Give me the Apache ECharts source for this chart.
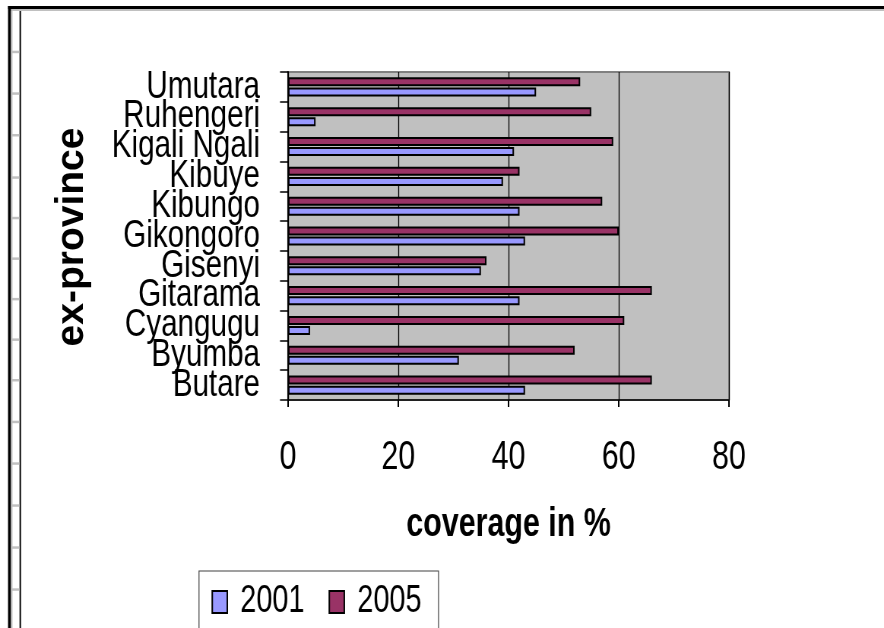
<!DOCTYPE html>
<html>
<head>
<meta charset="utf-8">
<title>Coverage by ex-province</title>
<script src="https://cdn.jsdelivr.net/npm/echarts@6/dist/echarts.min.js"></script>
<style>
  html, body { margin: 0; padding: 0; background: #fff; overflow: hidden; }
  #wrap { width: 884px; height: 628px; overflow: hidden; }
  /* The chart is laid out on a wider canvas and squeezed horizontally,
     which gives the tall, narrow lettering of the original worksheet chart. */
  #chart { width: 1163px; height: 628px; transform: scaleX(0.7601); transform-origin: 0 0; }
</style>
</head>
<body>
<div id="wrap"><div id="chart"></div></div>
<script>
// Provinces, listed bottom to top on the category axis
const provinces = ['Butare', 'Byumba', 'Cyangugu', 'Gitarama', 'Gisenyi', 'Gikongoro',
  'Kibungo', 'Kibuye', 'Kigali Ngali', 'Ruhengeri', 'Umutara'];
// Coverage in % per province
const coverage2001 = [43, 31, 4, 42, 35, 43, 42, 39, 41, 5, 45];
const coverage2005 = [66, 52, 61, 66, 36, 60, 57, 42, 59, 55, 53];
const seriesNames = ['2001', '2005'];
const xTicks = [0, 20, 40, 60, 80];
const yTitle = 'ex-province';

const SX = 0.7601;              // horizontal squeeze applied by CSS
const px = v => v / SX;         // screen x distance -> canvas x distance
const font = "'Liberation Sans', Arial, Helvetica, sans-serif";

// Worksheet frame around the chart object
const rowLines = [51.7, 93.3, 135, 177.3, 217.8, 258.4, 298.9, 339.4, 380, 421.7, 463.3, 505.3, 547.3, 589.3];
const frame = [
  { type: 'rect', shape: { x: px(8), y: 6, width: px(880), height: 3 }, style: { fill: '#000' }, silent: true },
  { type: 'rect', shape: { x: px(11), y: 9, width: px(880), height: 2 }, style: { fill: '#c0c0c0' }, silent: true },
  { type: 'rect', shape: { x: px(8), y: 6, width: px(3), height: 630 }, style: { fill: '#000' }, silent: true },
  { type: 'rect', shape: { x: px(11), y: 11, width: px(1.5), height: 630 }, style: { fill: '#c0c0c0' }, silent: true },
  { type: 'rect', shape: { x: px(19.5), y: 11, width: px(1.5), height: 630 }, style: { fill: '#000' }, silent: true }
].concat(rowLines.map(y => ({
  type: 'rect', shape: { x: px(12), y: y - 1, width: px(7.5), height: 2.5 }, style: { fill: '#c0c0c0' }, silent: true
})));

// Vertical axis title, kept at full stroke thickness under the squeeze
frame.push({
  type: 'text',
  x: px(72), y: 237,
  rotation: Math.PI / 2,
  scaleY: 1 / SX,
  silent: true,
  style: {
    text: yTitle, fill: '#000', font: 'bold 39px ' + font,
    align: 'center', verticalAlign: 'middle'
  }
});

const chart = echarts.init(document.getElementById('chart'), null, { renderer: 'canvas' });
chart.setOption({
  animation: false,
  backgroundColor: '#fff',
  graphic: frame,
  grid: {
    left: px(288), right: 1163 - px(729), top: 72, bottom: 228,
    show: true, backgroundColor: '#c0c0c0', borderColor: '#808080', borderWidth: 2
  },
  legend: {
    data: seriesNames,
    left: px(199), top: 571,
    orient: 'horizontal',
    padding: [12, px(17), 40, px(12.5)],
    itemWidth: px(15), itemHeight: 22, itemGap: px(24),
    icon: 'rect',
    backgroundColor: '#fff',
    borderColor: '#404040', borderWidth: 1.2,
    textStyle: { fontFamily: font, fontSize: 38, color: '#000', padding: [0, 0, 0, px(13) - 5] }
  },
  xAxis: {
    type: 'value',
    min: 0, max: 80, interval: 20,
    name: 'coverage in %',
    nameLocation: 'middle',
    nameGap: 105,
    nameTextStyle: { fontFamily: font, fontSize: 40, fontWeight: 'bold', color: '#000' },
    axisLine: { show: true, lineStyle: { color: '#000', width: 1.5 } },
    axisTick: { show: true, length: 7, lineStyle: { color: '#000', width: 2 } },
    axisLabel: {
      margin: 38, fontFamily: font, fontSize: 40, color: '#000',
      formatter: v => (xTicks.indexOf(v) >= 0 ? String(v) : '')
    },
    splitLine: { show: true, lineStyle: { color: '#000', width: 1.3 } }
  },
  yAxis: {
    type: 'category',
    data: provinces,
    axisLine: { show: true, lineStyle: { color: '#000', width: 2 } },
    axisTick: { show: true, length: px(8), alignWithLabel: false, lineStyle: { color: '#000', width: 1.5 } },
    axisLabel: { interval: 0, margin: px(28), fontFamily: font, fontSize: 39, color: '#000' },
    splitLine: { show: false }
  },
  // 2005 is listed first so its bar sits above the 2001 bar in each band
  series: [
    {
      name: '2005', type: 'bar', data: coverage2005,
      barWidth: 9, barGap: '12%',
      itemStyle: { color: '#993366', borderColor: '#000', borderWidth: 2 }
    },
    {
      name: '2001', type: 'bar', data: coverage2001,
      barWidth: 9, barGap: '12%',
      itemStyle: { color: '#9999ff', borderColor: '#000', borderWidth: 2 }
    }
  ]
});
</script>
</body>
</html>
